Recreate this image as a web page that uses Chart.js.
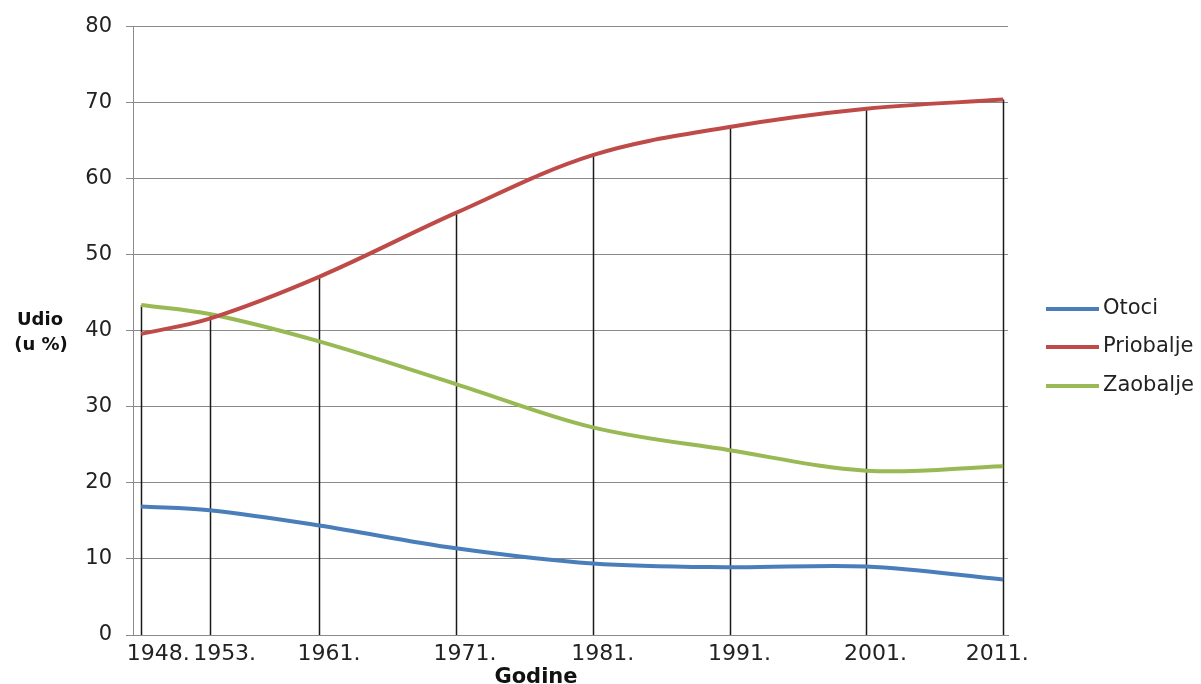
<!DOCTYPE html>
<html>
<head>
<meta charset="utf-8">
<script src="https://cdn.jsdelivr.net/npm/chart.js@4/dist/chart.umd.min.js"></script>
<style>
  html, body { margin: 0; padding: 0; background: #fff; }
  #wrap { width: 1201px; height: 684px; }
</style>
</head>
<body>
<div id="wrap"><canvas id="c" width="1201" height="684"></canvas></div>
<script>
// Census years and share of population (%) by zone
const years = [1948, 1953, 1961, 1971, 1981, 1991, 2001, 2011];
const yearLabels = ['1948.', '1953.', '1961.', '1971.', '1981.', '1991.', '2001.', '2011.'];
const otoci = [16.9, 16.4, 14.4, 11.4, 9.4, 8.9, 9.0, 7.3];
const priobalje = [39.6, 41.6, 47.1, 55.5, 63.1, 66.8, 69.2, 70.4];
const zaobalje = [43.4, 42.2, 38.6, 33.0, 27.3, 24.3, 21.6, 22.2];
const yTicks = [0, 10, 20, 30, 40, 50, 60, 70, 80];
const seriesNames = ['Otoci', 'Priobalje', 'Zaobalje'];
const seriesColors = ['#4a7ebb', '#be4b48', '#98b954'];

// horizontal nudge of each year label relative to its tick (crowded ends pushed inward)
const labelNudge = [17, 15, 10, 9, 10, 10, 9, -6];

const FONT = "'DejaVu Sans', sans-serif";

function pts(vals) { return years.map((y, i) => ({ x: y, y: vals[i] })); }

// vertical drop lines from the highest series down to the axis
const dropLines = {
  id: 'dropLines',
  beforeDatasetsDraw(chart) {
    const { ctx, scales: { x, y } } = chart;
    ctx.save();
    ctx.strokeStyle = '#1a1a1a';
    ctx.lineWidth = 1.5;
    years.forEach((yr, i) => {
      const top = Math.max(otoci[i], priobalje[i], zaobalje[i]);
      const px = Math.round(x.getPixelForValue(yr)) + 0.5;
      ctx.beginPath();
      ctx.moveTo(px, y.getPixelForValue(top));
      ctx.lineTo(px, y.getPixelForValue(0));
      ctx.stroke();
    });
    ctx.restore();
  }
};

// year labels, axis titles and legend
const annotations = {
  id: 'annotations',
  afterDraw(chart) {
    const { ctx, scales: { x, y } } = chart;
    ctx.save();
    ctx.fillStyle = '#222';
    ctx.textAlign = 'center';
    ctx.textBaseline = 'middle';
    ctx.font = '22px ' + FONT;
    const labelY = y.getPixelForValue(0) + 19;
    years.forEach((yr, i) => {
      ctx.fillText(yearLabels[i], x.getPixelForValue(yr) + labelNudge[i], labelY);
    });

    ctx.fillStyle = '#111';
    ctx.font = 'bold 18px ' + FONT;
    ctx.fillText('Udio', 40, 320);
    ctx.fillText('(u %)', 41, 345);
    ctx.font = 'bold 21px ' + FONT;
    ctx.fillText('Godine', 536, 678);

    ctx.textAlign = 'left';
    ctx.font = '21px ' + FONT;
    const rows = [309, 347, 386];
    chart.data.datasets.forEach((ds, i) => {
      ctx.strokeStyle = ds.borderColor;
      ctx.lineWidth = 4;
      ctx.beginPath();
      ctx.moveTo(1046, rows[i]);
      ctx.lineTo(1099, rows[i]);
      ctx.stroke();
      ctx.fillStyle = '#222';
      ctx.fillText(ds.label, 1103, rows[i]);
    });
    ctx.restore();
  }
};

new Chart(document.getElementById('c'), {
  type: 'line',
  data: {
    datasets: [
      { label: seriesNames[0], data: pts(otoci), borderColor: seriesColors[0] },
      { label: seriesNames[1], data: pts(priobalje), borderColor: seriesColors[1] },
      { label: seriesNames[2], data: pts(zaobalje), borderColor: seriesColors[2] }
    ].map(d => Object.assign(d, {
      backgroundColor: d.borderColor,
      borderWidth: 4,
      pointRadius: 0,
      tension: 0.35,
      fill: false
    }))
  },
  options: {
    responsive: false,
    animation: false,
    layout: { padding: { top: 25, right: 193, left: 0, bottom: 0 } },
    plugins: { legend: { display: false }, tooltip: { enabled: false } },
    scales: {
      x: {
        type: 'linear',
        min: 1947.4,
        max: 2011.35,
        afterBuildTicks(scale) { scale.ticks = years.map(v => ({ value: v })); },
        afterFit(scale) { scale.height = 49; },
        grid: { display: false, drawTicks: false },
        border: { display: true, color: '#8a8a8a', width: 1 },
        ticks: { display: false }
      },
      y: {
        min: 0,
        max: 80,
        afterBuildTicks(scale) { scale.ticks = yTicks.map(v => ({ value: v })); },
        afterFit(scale) { scale.width = 133; },
        grid: { color: '#8a8a8a', lineWidth: 1, tickLength: 7 },
        border: { display: true, color: '#8a8a8a', width: 1 },
        ticks: {
          padding: 14,
          color: '#222',
          font: { family: FONT, size: 21 }
        }
      }
    }
  },
  plugins: [dropLines, annotations]
});
</script>
</body>
</html>
